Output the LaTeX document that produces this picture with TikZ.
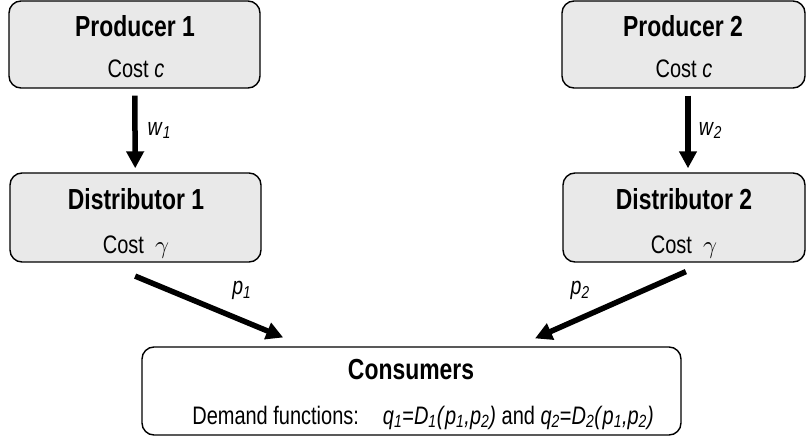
\documentclass[tikz,border=0pt]{standalone}
\usepackage{fontspec}
\setmainfont[FakeStretch=0.79]{Liberation Sans}
\usetikzlibrary{arrows.meta}
\definecolor{boxgray}{HTML}{E9E9E9}
\newcommand{\titlefont}{\fontsize{29}{32}\selectfont\bfseries}
\newcommand{\costfont}{\fontsize{25.3}{28}\selectfont}
\newcommand{\labfont}{\fontsize{24.7}{27}\selectfont}
\newcommand{\demfont}{\fontsize{25.3}{28}\selectfont}
\newcommand{\isub}[2]{\textit{#1}\textsubscript{\textit{#2}}}

\begin{document}
\begin{tikzpicture}[x = 1pt, y = -1pt]
\tikzstyle{boxStyle} = [draw, line width = 1.4pt, rounded corners = 12pt, inner sep = 0pt]
\tikzstyle{agentStyle} = [boxStyle, fill = boxgray]
\tikzstyle{textStyle} = [anchor = base, inner sep = 0pt]
\tikzstyle{flowStyle} = [line width = 5.5pt, -{Triangle[length = 17pt, width = 17pt]}]
\useasboundingbox (0, 0) rectangle (806, 441);
% boxes
\node[agentStyle, minimum width = 251pt, minimum height = 87pt] (p1) at (134.5, 44.5) {};
\node[agentStyle, minimum width = 243pt, minimum height = 87pt] (p2) at (683.5, 44.5) {};
\node[agentStyle, minimum width = 251pt, minimum height = 89pt] (d1) at (135.5, 217.5) {};
\node[agentStyle, minimum width = 242pt, minimum height = 89pt] (d2) at (684, 217.5) {};
\node[boxStyle, minimum width = 539pt, minimum height = 88pt] (cons) at (411.5, 391) {};
% texts
\node[textStyle] (p1t) at (135, 37) {\titlefont Producer 1};
\node[textStyle] (p1c) at (136, 78) {\costfont Cost \textit{c}};
\node[textStyle] (p2t) at (683, 37) {\titlefont Producer 2};
\node[textStyle] (p2c) at (684, 78) {\costfont Cost \textit{c}};
\node[textStyle] (d1t) at (136, 209) {\titlefont Distributor 1};
\node[textStyle] (d1c) at (136, 253) {\costfont Cost ~$\gamma$};
\node[textStyle] (d2t) at (684, 209) {\titlefont Distributor 2};
\node[textStyle] (d2c) at (684, 253) {\costfont Cost ~$\gamma$};
\node[textStyle] (ct) at (411, 379) {\titlefont Consumers};
\node[textStyle] (cd) at (423, 424) {\demfont Demand functions:\hspace{24pt}\isub{q}{1}=\isub{D}{1}\textit{(}\isub{p}{1}\textit{,}\isub{p}{2}\textit{)} and \isub{q}{2}=\isub{D}{2}\textit{(}\isub{p}{1}\textit{,}\isub{p}{2}\textit{)}};
% flows
\draw[flowStyle, shorten < = 7pt, shorten > = 4pt] (p1) -- (d1)
  node[pos = 0.5, anchor = west, inner sep = 0pt, xshift = 10pt] (w1) {\labfont \isub{w}{1}};
\draw[flowStyle, shorten < = 7pt, shorten > = 4pt] ([xshift = 4.5pt]p2.south) -- ([xshift = 4pt]d2.north)
  node[pos = 0.5, anchor = west, inner sep = 0pt, xshift = 8pt] (w2) {\labfont \isub{w}{2}};
\draw[flowStyle, shorten < = 35pt, shorten > = 23pt] ([xshift = -32.7pt]d1.south) -- ([xshift = -107pt]cons.north)
  node[pos = 0.55, anchor = south, inner sep = 0pt, xshift = 28pt, yshift = 6pt] (lp1) {\labfont \isub{p}{1}};
\draw[flowStyle, shorten < = 22pt, shorten > = 19.5pt] ([xshift = 22pt]d2.south) -- ([xshift = 105.7pt]cons.north)
  node[pos = 0.55, anchor = south, inner sep = 0pt, xshift = -22pt, yshift = 6pt] (lp2) {\labfont \isub{p}{2}};
\end{tikzpicture}
\end{document}
